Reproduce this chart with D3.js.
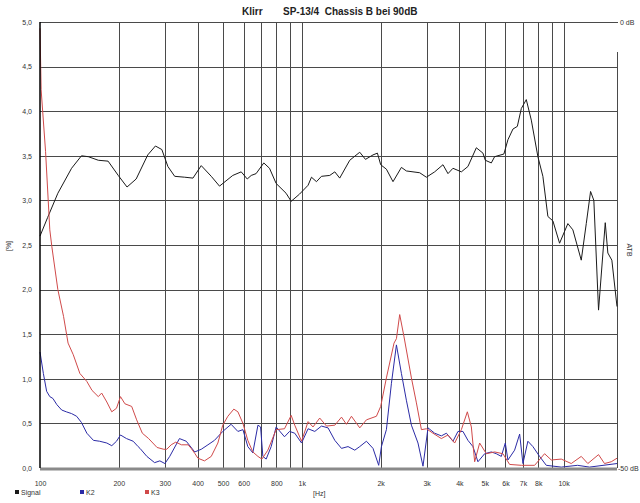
<!DOCTYPE html>
<html>
<head>
<meta charset="utf-8">
<script src="https://cdn.jsdelivr.net/npm/d3@7"></script>
<style>
  body { margin: 0; background: #fff; }
  svg { display: block; font-family: "Liberation Sans", Arial, sans-serif; }
  .grid line { stroke: #4a4a4a; stroke-width: 1; shape-rendering: crispEdges; }
  .grid path { display: none; }
  .lbl text { font-size: 7px; fill: #333; }
  .lbl path, .lbl line { display: none; }
</style>
</head>
<body>
<svg width="640" height="503"></svg>
<script>
// ---- data ----
var signalFreq = [100, 107, 117, 132, 144, 153, 167, 182, 199, 215, 233, 258, 276, 292, 308, 327, 357, 384, 413, 451,
  485, 545, 587, 619, 641, 669, 716, 753, 798, 871, 911, 980, 1057, 1089, 1138, 1189, 1279, 1337, 1396, 1525,
  1665, 1751, 1871, 1945, 2002, 2105, 2231, 2402, 2509, 2821, 2992, 3218, 3462, 3618, 3780, 4070, 4312, 4643, 4920, 5024,
  5297, 5453, 5917, 6130, 6407, 6659, 6896, 7205, 7529, 7979, 8337, 8712, 9105, 9655, 10385, 10852, 11684, 12210, 12681, 13052,
  13602, 14429, 14763, 15292, 16000];
var signalDb = [-24.0, -21.9, -19.2, -16.4, -15.0, -15.1, -15.5, -15.6, -17.2, -18.5, -17.6, -14.9, -13.9, -14.3, -16.2, -17.3, -17.4, -17.5, -16.1, -17.3,
  -18.4, -17.2, -16.8, -17.6, -17.2, -17.0, -15.8, -16.4, -18.1, -19.2, -20.1, -19.3, -18.3, -17.4, -17.9, -17.3, -17.2, -16.8, -17.5, -15.5,
  -14.6, -15.4, -14.9, -14.7, -16.0, -16.5, -17.9, -16.3, -16.7, -16.9, -17.4, -16.8, -16.0, -17.0, -16.4, -16.8, -16.2, -14.1, -14.7, -15.5,
  -15.8, -15.1, -14.8, -13.2, -12.0, -11.7, -9.7, -8.7, -11.0, -15.1, -17.3, -21.8, -22.3, -24.8, -22.6, -23.3, -26.7, -22.6, -19.0, -20.0,
  -32.3, -22.5, -25.9, -26.7, -31.9];

var k2Freq = [100, 103, 106, 109, 112, 116, 121, 126, 132, 138, 144, 151, 160, 169, 180, 188, 196, 203, 214, 227,
  237, 241, 256, 274, 287, 300, 313, 341, 362, 390, 413, 438, 464, 499, 537, 570, 596, 622, 650, 680,
  696, 710, 731, 764, 798, 859, 898, 940, 998, 1057, 1121, 1189, 1260, 1337, 1418, 1502, 1594, 1665, 1766, 1871,
  1967, 2015, 2105, 2200, 2299, 2402, 2509, 2623, 2779, 2904, 3035, 3218, 3413, 3568, 3780, 3950, 4127, 4312, 4507, 4709,
  4995, 5297, 5535, 5784, 5990, 6130, 6501, 6796, 6995, 7307, 7636, 8098, 8590, 9799, 11310, 12566, 16000];
var k2Pct = [1.30, 1.06, 0.86, 0.80, 0.78, 0.71, 0.65, 0.63, 0.61, 0.58, 0.51, 0.39, 0.31, 0.30, 0.28, 0.25, 0.30, 0.37, 0.33, 0.30,
  0.24, 0.22, 0.13, 0.06, 0.08, 0.05, 0.13, 0.33, 0.30, 0.18, 0.21, 0.26, 0.31, 0.41, 0.49, 0.41, 0.43, 0.24, 0.17, 0.48,
  0.46, 0.13, 0.10, 0.24, 0.46, 0.35, 0.41, 0.39, 0.28, 0.44, 0.41, 0.47, 0.45, 0.31, 0.22, 0.24, 0.20, 0.24, 0.30, 0.22,
  0.03, 0.24, 0.43, 0.95, 1.38, 1.06, 0.76, 0.48, 0.28, 0.02, 0.45, 0.39, 0.36, 0.39, 0.30, 0.41, 0.41, 0.31, 0.24, 0.07,
  0.16, 0.18, 0.16, 0.13, 0.28, 0.09, 0.20, 0.38, 0.05, 0.30, 0.24, 0.13, 0.03, 0.01, 0.03, 0.01, 0.05];

var k3Freq = [100, 101, 105, 109, 111, 117, 123, 128, 134, 142, 151, 158, 167, 172, 180, 188, 196, 203, 211, 224,
  234, 246, 260, 280, 297, 305, 317, 330, 347, 368, 378, 391, 401, 425, 451, 478, 499, 522, 550, 570,
  596, 622, 650, 680, 704, 742, 798, 859, 911, 940, 998, 1057, 1104, 1171, 1243, 1337, 1418, 1481, 1548, 1665,
  1766, 1928, 2002, 2105, 2251, 2299, 2366, 2458, 2623, 2741, 2864, 2992, 3170, 3413, 3618, 3837, 4070, 4290, 4444, 4575,
  4780, 5070, 5453, 5866, 6223, 6896, 7751, 8463, 8976, 9799, 10700, 11684, 12381, 13602, 14338, 15213, 16000];
var k3Pct = [4.93, 4.24, 3.55, 2.67, 2.48, 2.00, 1.70, 1.40, 1.27, 1.06, 0.97, 0.87, 0.80, 0.84, 0.74, 0.63, 0.67, 0.80, 0.72, 0.69,
  0.54, 0.39, 0.33, 0.23, 0.21, 0.21, 0.26, 0.29, 0.26, 0.26, 0.22, 0.16, 0.11, 0.08, 0.13, 0.28, 0.48, 0.58, 0.66, 0.63,
  0.50, 0.31, 0.18, 0.13, 0.10, 0.20, 0.43, 0.44, 0.59, 0.48, 0.30, 0.52, 0.46, 0.56, 0.47, 0.48, 0.57, 0.49, 0.58, 0.45,
  0.54, 0.58, 0.69, 1.01, 1.40, 1.45, 1.72, 1.47, 1.01, 0.73, 0.43, 0.44, 0.39, 0.33, 0.37, 0.28, 0.43, 0.63, 0.46, 0.07,
  0.28, 0.16, 0.18, 0.16, 0.04, 0.03, 0.03, 0.16, 0.09, 0.10, 0.05, 0.13, 0.05, 0.15, 0.05, 0.07, 0.11];

var gridFreqs = [200, 300, 400, 500, 600, 700, 800, 900, 1000, 2000, 3000, 4000, 5000, 6000, 7000, 8000, 9000, 10000];
var xLabelFreqs = [100, 200, 300, 400, 500, 600, 800, 1000, 2000, 3000, 4000, 5000, 6000, 7000, 8000, 10000];
var xLabelText = ["100", "200", "300", "400", "500", "600", "800", "1k", "2k", "3k", "4k", "5k", "6k", "7k", "8k", "10k"];
var yTicks = [0, 0.5, 1, 1.5, 2, 2.5, 3, 3.5, 4, 4.5, 5];

var series = [
  { name: "Signal", color: "#1a1a1a" },
  { name: "K2", color: "#2b2ba6" },
  { name: "K3", color: "#d04a4a" }
];

// ---- layout (plot box edges) ----
var pLeft = 40, pRight = 617, pTop = 22, pBottom = 468;
var svg = d3.select("svg");

var x = d3.scaleLog().domain([100, 16000]).range([pLeft, pRight]);
var y = d3.scaleLinear().domain([0, 5]).range([pBottom, pTop]);
var yDb = d3.scaleLinear().domain([-50, 0]).range([pBottom, pTop]);

// title
svg.append("text").attr("x", 242).attr("y", 15).attr("font-size", 10).attr("font-weight", "bold")
  .attr("fill", "#222").text("Klirr");
svg.append("text").attr("x", 283).attr("y", 15).attr("font-size", 10).attr("font-weight", "bold")
  .attr("fill", "#222").attr("xml:space", "preserve").text("SP-13/4  Chassis B bei 90dB");

// horizontal grid
svg.append("g").attr("class", "grid")
  .attr("transform", "translate(" + pLeft + ",0)")
  .call(d3.axisRight(y).tickValues(yTicks.slice(1)).tickSize(pRight - pLeft).tickFormat(""));

// vertical grid
svg.append("g").attr("class", "grid")
  .attr("transform", "translate(0," + pBottom + ")")
  .call(d3.axisTop(x).tickValues(gridFreqs).tickSize(pBottom - pTop).tickFormat(""));

// top line runs on to the dB label, right dB axis
svg.append("line").attr("x1", pRight - 4).attr("x2", pRight + 1).attr("y1", pTop + 0.5).attr("y2", pTop + 0.5)
  .attr("stroke", "#4a4a4a");
svg.append("line").attr("x1", pRight + 0.5).attr("x2", pRight + 0.5).attr("y1", 52).attr("y2", pBottom)
  .attr("stroke", "#4a4a4a");

// y labels
svg.append("g").attr("class", "lbl")
  .attr("transform", "translate(" + (pLeft - 5) + ",0)")
  .call(d3.axisLeft(y).tickValues(yTicks).tickSize(0).tickFormat(d => d3.format(".1f")(d).replace(".", ",")));

// x labels
svg.append("g").attr("class", "lbl")
  .attr("transform", "translate(0," + (pBottom + 10) + ")")
  .call(d3.axisBottom(x).tickValues(xLabelFreqs).tickSize(0).tickFormat((d, i) => xLabelText[i]));

// axis titles
svg.append("text").attr("transform", "translate(11,246) rotate(-90)").attr("text-anchor", "middle")
  .attr("font-size", 7).attr("fill", "#333").text("[%]");
svg.append("text").attr("transform", "translate(627,250) rotate(90)").attr("text-anchor", "middle")
  .attr("font-size", 7).attr("fill", "#333").text("ATB");
svg.append("text").attr("x", 620).attr("y", yDb(0) + 2.5).attr("font-size", 7).attr("fill", "#333").text("0 dB");
svg.append("text").attr("x", 618).attr("y", yDb(-50) + 2.5).attr("font-size", 7).attr("fill", "#333").text("-50 dB");
svg.append("text").attr("x", 313).attr("y", 496).attr("font-size", 7).attr("fill", "#333").text("[Hz]");

// curves
function pts(fs, vs) { return fs.map((f, i) => [f, vs[i]]); }
var linePct = d3.line().x(d => x(d[0])).y(d => y(d[1]));
var lineDb = d3.line().x(d => x(d[0])).y(d => yDb(d[1]));

var plot = svg.append("g");
plot.append("path").datum(pts(signalFreq, signalDb)).attr("d", lineDb)
  .attr("fill", "none").attr("stroke", series[0].color).attr("stroke-width", 1);
plot.append("path").datum(pts(k2Freq, k2Pct)).attr("d", linePct)
  .attr("fill", "none").attr("stroke", series[1].color).attr("stroke-width", 1);
plot.append("path").datum(pts(k3Freq, k3Pct)).attr("d", linePct)
  .attr("fill", "none").attr("stroke", series[2].color).attr("stroke-width", 1);

// axes on top
svg.append("line").attr("x1", pLeft).attr("x2", pRight).attr("y1", pBottom + 1).attr("y2", pBottom + 1)
  .attr("stroke", "#8a8a8a").attr("stroke-width", 3);
svg.append("line").attr("x1", pLeft).attr("x2", pLeft).attr("y1", pTop).attr("y2", pBottom)
  .attr("stroke", "#000").attr("stroke-width", 1.5);

// legend
var leg = svg.append("g").selectAll("g").data(series).join("g")
  .attr("transform", (d, i) => "translate(" + (15 + i * 65) + ",490)");
leg.append("rect").attr("width", 4).attr("height", 4).attr("y", 0).attr("fill", d => d.color);
leg.append("text").attr("x", 6).attr("y", 5).attr("font-size", 7).attr("fill", "#333").text(d => d.name);
</script>
</body>
</html>
